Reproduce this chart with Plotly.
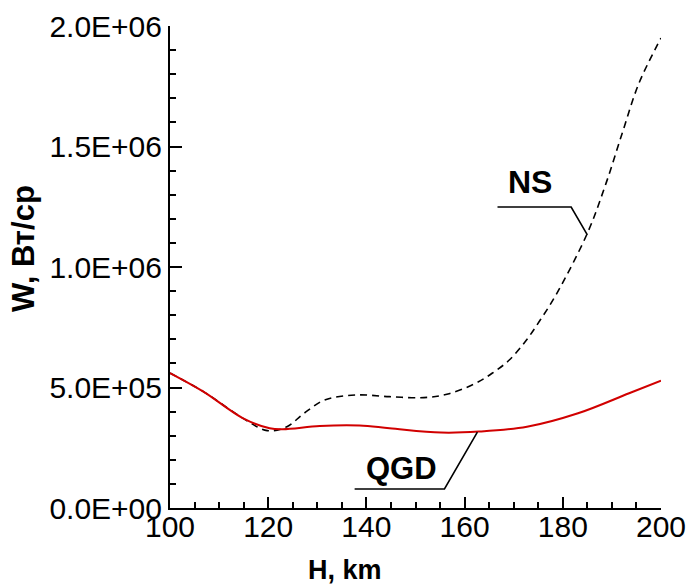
import plotly.graph_objects as go

# ---- data ----
h_qgd = [100, 106.8, 114.9, 120.3, 123.0, 130.5, 138.6, 144.7, 155.2, 162.9, 172.7, 183.1, 193.5, 200]
w_qgd = [5.6e5, 4.83e5, 3.72e5, 3.31e5, 3.27e5, 3.40e5, 3.42e5, 3.31e5, 3.13e5, 3.17e5, 3.37e5, 3.93e5, 4.76e5, 5.28e5]

h_ns = [100, 106.8, 114.9, 119.8, 123.8, 127.3, 131.5, 137.8, 144.7, 151.7, 156.6, 162.2, 165.6,
        169.1, 172.6, 175.4, 178.6, 185.0, 188.8, 192.1, 195.5, 200]
w_ns = [5.6e5, 4.83e5, 3.72e5, 3.21e5, 3.37e5, 3.93e5, 4.48e5, 4.69e5, 4.62e5, 4.58e5, 4.73e5, 5.17e5, 5.59e5,
        6.14e5, 6.97e5, 7.80e5, 8.84e5, 1.14e6, 1.347e6, 1.555e6, 1.762e6, 1.95e6]

x_tick_vals = [100, 120, 140, 160, 180, 200]
y_tick_vals = [0, 5e5, 1e6, 1.5e6, 2e6]
y_tick_text = ["0.0E+00", "5.0E+05", "1.0E+06", "1.5E+06", "2.0E+06"]

series_labels = ["NS", "QGD"]
# label anchor (data coords) and leader-line vertices (data coords)
ns_label = (173.4, 1.353e6)
ns_leader_x = [166.7, 181.7, 185.0]
ns_leader_y = [1.249e6, 1.249e6, 1.133e6]
qgd_label = (147.2, 1.62e5)
qgd_leader_x = [137.6, 155.9, 162.6]
qgd_leader_y = [0.79e5, 0.79e5, 3.15e5]

FONT = "Liberation Sans, Arial, sans-serif"

fig = go.Figure()
fig.add_trace(go.Scatter(x=h_ns, y=w_ns, mode="lines", line=dict(color="black", width=1.6, dash="7px,5px", shape="spline"),
                         showlegend=False, hoverinfo="skip"))
fig.add_trace(go.Scatter(x=h_qgd, y=w_qgd, mode="lines", line=dict(color="#d10000", width=2, shape="spline"),
                         showlegend=False, hoverinfo="skip"))
fig.add_trace(go.Scatter(x=ns_leader_x, y=ns_leader_y, mode="lines", line=dict(color="black", width=1.6),
                         showlegend=False, hoverinfo="skip"))
fig.add_trace(go.Scatter(x=qgd_leader_x, y=qgd_leader_y, mode="lines", line=dict(color="black", width=1.6),
                         showlegend=False, hoverinfo="skip"))

fig.add_annotation(x=ns_label[0], y=ns_label[1], text="<b>" + series_labels[0] + "</b>", showarrow=False,
                   font=dict(family=FONT, size=32, color="black"), xanchor="center", yanchor="middle")
fig.add_annotation(x=qgd_label[0], y=qgd_label[1], text="<b>" + series_labels[1] + "</b>", showarrow=False,
                   font=dict(family=FONT, size=31, color="black"), xanchor="center", yanchor="middle")

# axis titles
fig.add_annotation(xref="paper", yref="paper", x=-0.298, y=0.539, text="<b>W, Вт/ср</b>", textangle=-90,
                   showarrow=False, font=dict(family=FONT, size=31, color="black"), xanchor="center", yanchor="middle")
fig.add_annotation(xref="paper", yref="paper", x=0.356, y=-0.129, text="<b>H, km</b>",
                   showarrow=False, font=dict(family=FONT, size=27, color="black"), xanchor="center", yanchor="middle")

fig.update_xaxes(range=[100, 200], tickvals=x_tick_vals, ticks="inside", ticklen=11, tickwidth=2, tickcolor="black",
                 showline=True, linecolor="black", linewidth=2, showgrid=False, zeroline=False, automargin=False,
                 ticklabelstandoff=-9, tickfont=dict(family=FONT, size=30, color="black"),
                 minor=dict(dtick=5, ticks="inside", ticklen=6, tickwidth=1.5, tickcolor="black", showgrid=False))
fig.update_yaxes(range=[0, 2e6], tickvals=y_tick_vals, ticktext=y_tick_text, ticks="inside", ticklen=12, tickwidth=2,
                 tickcolor="black", showline=True, linecolor="black", linewidth=2, showgrid=False, zeroline=False,
                 automargin=False, tickfont=dict(family=FONT, size=30, color="black"),
                 minor=dict(dtick=1e5, ticks="inside", ticklen=6, tickwidth=1.5, tickcolor="black", showgrid=False))

fig.update_layout(template="none", width=688, height=587, margin=dict(l=170, r=27, t=26, b=79),
                  plot_bgcolor="white", paper_bgcolor="white")

fig.write_html("out.html")
